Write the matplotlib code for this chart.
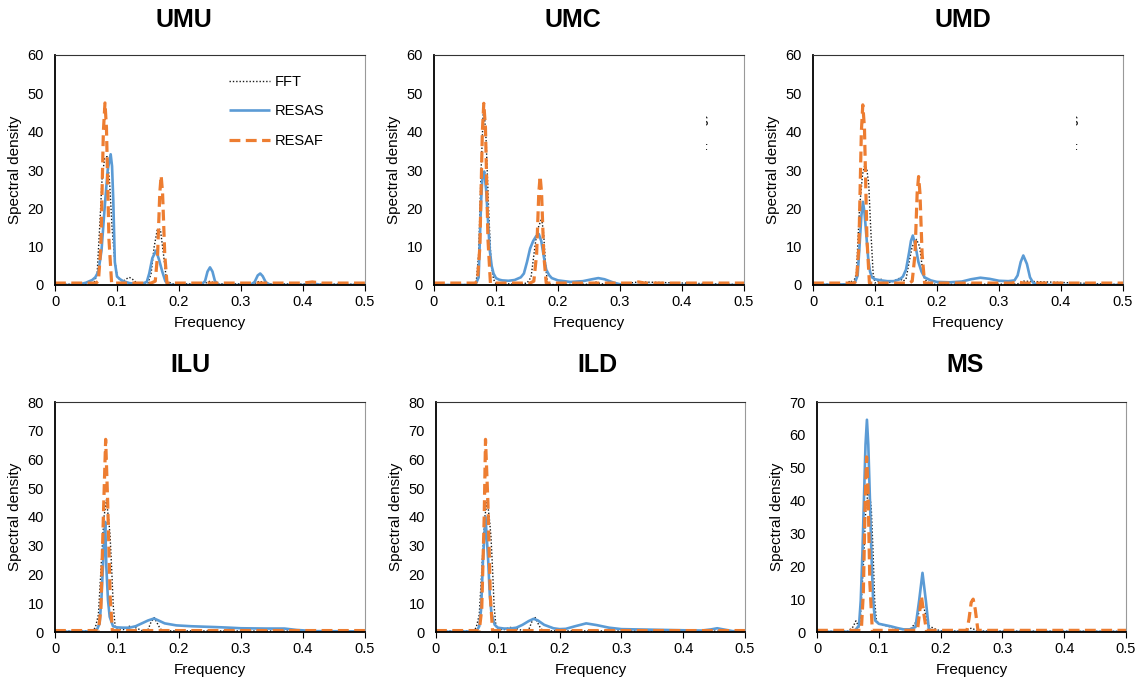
import matplotlib
matplotlib.use("Agg")
import matplotlib.pyplot as plt
from matplotlib.transforms import Bbox, TransformedBbox

plt.rcParams['font.family'] = ['Liberation Sans', 'DejaVu Sans']

# ---------------- data: (frequency, spectral density) knots ----------------
# UMU
umu_fft_f = [0, 0.05, 0.063, 0.068, 0.072, 0.076, 0.08, 0.084, 0.088, 0.092, 0.096, 0.1, 0.105, 0.11, 0.115, 0.12,
             0.125, 0.13, 0.14, 0.15, 0.155, 0.16, 0.165, 0.17, 0.175, 0.18, 0.19, 0.24, 0.25, 0.26, 0.32, 0.33, 0.34, 0.5]
umu_fft_d = [0.2, 0.2, 0.5, 3, 15, 28, 33, 33.5, 27, 15, 7, 2.5, 1.2, 1, 1.6, 2,
             1.5, 0.8, 0.3, 0.5, 3, 10, 14.5, 14.5, 8, 1, 0.3, 0.3, 1, 0.3, 0.3, 1, 0.3, 0.2]
umu_resas_f = [0, 0.03, 0.04, 0.05, 0.06, 0.065, 0.07, 0.075, 0.08, 0.085, 0.0898, 0.092, 0.094, 0.0965, 0.1,
               0.105, 0.11, 0.12, 0.13, 0.14, 0.148, 0.152, 0.157, 0.163, 0.168, 0.173, 0.178, 0.182, 0.19,
               0.235, 0.242, 0.246, 0.25, 0.254, 0.258, 0.265, 0.315, 0.322, 0.327, 0.331, 0.335, 0.34, 0.348,
               0.4, 0.41, 0.415, 0.42, 0.43, 0.5]
umu_resas_d = [0, 0, 0.2, 0.6, 1.3, 2, 3.5, 9, 20, 30, 34.1, 31, 22, 6, 2.2,
               1.5, 1, 0.5, 0.3, 0.3, 0.8, 3, 7, 9, 6.5, 3.5, 1, 0.2, 0,
               0, 1, 3.5, 4.6, 3.5, 1, 0, 0, 0.8, 2.5, 3, 2.3, 0.7, 0,
               0, 0.3, 0.5, 0.3, 0, 0]
umu_resaf_f = [0, 0.066, 0.07, 0.074, 0.078, 0.0806, 0.083, 0.087, 0.0913, 0.155, 0.1617, 0.1655, 0.169, 0.1712,
               0.1735, 0.177, 0.1806, 0.4, 0.415, 0.43, 0.5]
umu_resaf_d = [0.5, 0.5, 1, 10, 40, 47.5, 41, 12, 0.5, 0.5, 1, 8, 24, 28.5, 24, 8, 0.5, 0.5, 0.8, 0.5, 0.5]

# UMC
umc_fft_f = [0, 0.06, 0.068, 0.072, 0.076, 0.08, 0.084, 0.088, 0.092, 0.096, 0.1, 0.12, 0.14, 0.15, 0.1565, 0.162,
             0.166, 0.1737, 0.177, 0.18, 0.183, 0.19, 0.25, 0.26, 0.27, 0.3, 0.33, 0.5]
umc_fft_d = [0.1, 0.1, 0.5, 8, 30, 47.5, 38, 20, 6, 1.5, 0.3, 0.3, 0.3, 0.5, 2, 9, 14, 17.4, 13, 5, 0.5, 0.1,
             0.2, 0.8, 0.3, 0.2, 0.8, 0.1]
umc_resas_f = [0, 0.06, 0.068, 0.072, 0.074, 0.076, 0.078, 0.081, 0.084, 0.087, 0.09, 0.093, 0.096, 0.1, 0.105,
               0.11, 0.12, 0.13, 0.14, 0.145, 0.15, 0.155, 0.16, 0.165, 0.169, 0.173, 0.177, 0.181, 0.186, 0.19,
               0.2, 0.22, 0.24, 0.255, 0.265, 0.275, 0.29, 0.3, 0.32, 0.5]
umc_resas_d = [0, 0, 0.5, 2, 12, 22, 28, 29.6, 25, 17, 9, 5, 3, 1.8, 1.4,
               1.2, 1.1, 1.3, 2, 3, 6, 9.5, 11.5, 12.8, 13.3, 11.5, 7.5, 4, 2.5, 1.8,
               1.2, 0.8, 1, 1.5, 1.8, 1.5, 0.6, 0.2, 0, 0]
umc_resaf_f = [0, 0.066, 0.07, 0.074, 0.078, 0.0803, 0.083, 0.087, 0.091, 0.155, 0.161, 0.1655, 0.169, 0.1712,
               0.1735, 0.177, 0.181, 0.32, 0.33, 0.34, 0.5]
umc_resaf_d = [0.5, 0.5, 1, 10, 40, 47.4, 41, 12, 0.5, 0.5, 1, 8, 24, 28.4, 24, 8, 0.5, 0.5, 0.8, 0.5, 0.5]

# UMD
umd_fft_f = [0, 0.055, 0.06, 0.065, 0.07, 0.075, 0.08, 0.0835, 0.087, 0.09, 0.093, 0.097, 0.1, 0.11, 0.12, 0.13,
             0.14, 0.145, 0.15, 0.155, 0.16, 0.167, 0.172, 0.176, 0.18, 0.19, 0.3, 0.33, 0.34, 0.5]
umd_fft_d = [0.2, 0.2, 1.2, 0.5, 3, 20, 29, 31.2, 30, 26, 15, 3, 0.5, 1.5, 0.5, 1,
             1.8, 1, 1.5, 6, 10, 11.9, 10, 5, 1.5, 0.2, 0.2, 0.3, 1, 0.1]
umd_resas_f = [0, 0.06, 0.068, 0.072, 0.075, 0.078, 0.0806, 0.083, 0.086, 0.089, 0.092, 0.095, 0.1, 0.11, 0.12,
               0.13, 0.14, 0.145, 0.15, 0.155, 0.158, 0.161, 0.165, 0.17, 0.175, 0.18, 0.19, 0.2, 0.22, 0.24,
               0.255, 0.27, 0.285, 0.3, 0.315, 0.325, 0.33, 0.335, 0.3392, 0.345, 0.35, 0.355, 0.36, 0.37, 0.4, 0.5]
umd_resas_d = [0, 0.2, 0.8, 2.5, 10, 18, 21.7, 19, 13, 7, 3.5, 2, 1.5, 1.2, 1,
               1, 1.5, 2.2, 4, 8.5, 11.5, 12.9, 10.5, 6, 3.5, 2, 1.2, 0.8, 0.7, 0.9,
               1.5, 1.9, 1.6, 1.1, 1.0, 1.2, 2.5, 6, 7.7, 5.5, 2, 0.6, 0.2, 0.1, 0, 0]
umd_resaf_f = [0, 0.066, 0.07, 0.074, 0.078, 0.0803, 0.083, 0.087, 0.091, 0.155, 0.16, 0.1645, 0.168, 0.1703,
               0.1725, 0.176, 0.18, 0.32, 0.33, 0.34, 0.5]
umd_resaf_d = [0.5, 0.5, 1, 10, 40, 47.0, 41, 12, 0.5, 0.5, 1, 8, 24, 28.3, 24, 8, 0.5, 0.5, 0.8, 0.5, 0.5]

# ILU
ilu_fft_f = [0, 0.06, 0.065, 0.07, 0.075, 0.079, 0.083, 0.087, 0.0887, 0.0914, 0.094, 0.097, 0.1, 0.11, 0.12,
             0.13, 0.14, 0.15, 0.155, 0.16, 0.165, 0.17, 0.18, 0.5]
ilu_fft_d = [0.3, 0.3, 1.5, 6, 25, 40, 46, 38, 34, 22, 9, 2, 1, 0.8, 2,
             1.5, 0.5, 0.8, 3.5, 5, 3, 1, 0.4, 0.3]
ilu_resas_f = [0, 0.06, 0.068, 0.072, 0.075, 0.0785, 0.081, 0.0828, 0.0855, 0.0882, 0.0936, 0.1, 0.11, 0.12, 0.13,
               0.14, 0.15, 0.1597, 0.167, 0.177, 0.1957, 0.22, 0.26, 0.282, 0.3, 0.34, 0.37, 0.39, 0.42, 0.5]
ilu_resas_d = [0, 0.2, 1, 3, 12, 28.4, 38.3, 22.6, 11, 5.3, 2, 1.6, 1.5, 1.5, 2,
               3, 4, 4.7, 4, 3, 2.3, 2, 1.7, 1.5, 1.3, 1.2, 1.2, 0.7, 0.3, 0.2]
ilu_resaf_f = [0, 0.066, 0.07, 0.074, 0.078, 0.0817, 0.085, 0.089, 0.0925, 0.5]
ilu_resaf_d = [0.5, 0.5, 0.5, 8, 40, 67, 45, 12, 0.5, 0.5]

# ILD
ild_fft_f = [0, 0.06, 0.065, 0.07, 0.075, 0.079, 0.083, 0.087, 0.089, 0.0915, 0.094, 0.097, 0.1, 0.11, 0.12,
             0.13, 0.14, 0.15, 0.155, 0.16, 0.165, 0.17, 0.18, 0.5]
ild_fft_d = [0.3, 0.3, 1.5, 6, 25, 40, 46, 38, 33, 22, 9, 2, 1, 0.8, 1.6,
             1.2, 0.5, 0.8, 3.5, 5.2, 3, 1, 0.4, 0.3]
ild_resas_f = [0, 0.06, 0.067, 0.07, 0.073, 0.076, 0.0801, 0.0844, 0.087, 0.0898, 0.095, 0.1, 0.11, 0.12, 0.13,
               0.14, 0.15, 0.158, 0.165, 0.175, 0.19, 0.2, 0.21, 0.225, 0.243, 0.26, 0.28, 0.3, 0.35, 0.4,
               0.43, 0.445, 0.455, 0.465, 0.48, 0.5]
ild_resas_d = [0, 0.2, 0.8, 2, 8, 25, 40, 25, 13, 6.4, 2.5, 1.5, 1.2, 1.2, 1.5,
               2.5, 3.8, 4.6, 4, 2.5, 1.3, 1, 1.1, 2, 3, 2.4, 1.5, 1, 0.8, 0.6,
               0.5, 0.9, 1.3, 0.9, 0.3, 0.2]
ild_resaf_f = [0, 0.066, 0.07, 0.074, 0.078, 0.0801, 0.084, 0.088, 0.0915, 0.5]
ild_resaf_d = [0.5, 0.5, 0.5, 8, 40, 67, 45, 12, 0.5, 0.5]

# MS
ms_fft_f = [0, 0.05, 0.058, 0.063, 0.068, 0.07, 0.075, 0.079, 0.083, 0.086, 0.088, 0.0906, 0.0933, 0.096, 0.1,
            0.11, 0.13, 0.15, 0.16, 0.17, 0.175, 0.18, 0.185, 0.19, 0.2, 0.24, 0.25, 0.26, 0.5]
ms_fft_d = [0.2, 0.2, 1.5, 3.4, 1.5, 4, 20, 38, 42.6, 41, 37, 25, 9.6, 3.6, 2.5,
            2, 1, 0.5, 3, 9, 6, 2, 1.5, 1, 0.3, 0.3, 1.2, 0.3, 0.2]
ms_resas_f = [0, 0.06, 0.068, 0.0708, 0.0735, 0.0759, 0.0785, 0.0808, 0.083, 0.0857, 0.088, 0.0908, 0.094, 0.1,
              0.11, 0.12, 0.13, 0.14, 0.15, 0.1594, 0.1653, 0.1707, 0.1761, 0.1809, 0.19, 0.5]
ms_resas_d = [0, 0.1, 2, 9.6, 24, 40, 57, 64.6, 57, 40, 24, 9.6, 3.5, 2.5,
              2.1, 1.7, 1.2, 0.8, 0.8, 1.5, 9.6, 18, 9.6, 1, 0, 0]
ms_resaf_f = [0, 0.068, 0.0717, 0.075, 0.078, 0.0803, 0.0825, 0.0855, 0.0895, 0.16, 0.1626, 0.166, 0.169, 0.1725,
              0.177, 0.2426, 0.246, 0.2495, 0.2527, 0.256, 0.2604, 0.5]
ms_resaf_d = [0.5, 0.5, 0.5, 12, 40, 53.3, 44, 15, 0.5, 0.5, 0.5, 6, 10.9, 6, 0.5, 0.5, 4, 9, 10, 7, 0.5, 0.5]

freq_ticks = [0, 0.1, 0.2, 0.3, 0.4, 0.5]
freq_tick_labels = ["0", "0.1", "0.2", "0.3", "0.4", "0.5"]
panel_names = ["UMU", "UMC", "UMD", "ILU", "ILD", "MS"]
panel_ymax = [60, 60, 60, 80, 80, 70]
series_names = ["FFT", "RESAS", "RESAF"]

panel_series = [
    [(umu_fft_f, umu_fft_d), (umu_resas_f, umu_resas_d), (umu_resaf_f, umu_resaf_d)],
    [(umc_fft_f, umc_fft_d), (umc_resas_f, umc_resas_d), (umc_resaf_f, umc_resaf_d)],
    [(umd_fft_f, umd_fft_d), (umd_resas_f, umd_resas_d), (umd_resaf_f, umd_resaf_d)],
    [(ilu_fft_f, ilu_fft_d), (ilu_resas_f, ilu_resas_d), (ilu_resaf_f, ilu_resaf_d)],
    [(ild_fft_f, ild_fft_d), (ild_resas_f, ild_resas_d), (ild_resaf_f, ild_resaf_d)],
    [(ms_fft_f, ms_fft_d), (ms_resas_f, ms_resas_d), (ms_resaf_f, ms_resaf_d)],
]

# ---------------- layout ----------------
W, H = 1139, 681
fig = plt.figure(figsize=(W / 100, H / 100), dpi=100)

# axes boxes in pixels: left, top, right, bottom
boxes = [(55, 55, 365, 285), (434, 55, 744, 285), (813, 55, 1123, 285),
         (55, 402, 365, 632), (436, 402, 745, 632), (817, 402, 1126, 632)]
title_pos = [(184, 20), (573, 20), (963, 20), (190, 365), (597, 365), (965, 365)]

styles = [
    dict(color="#1a1a1a", lw=1.0, linestyle=(0, (1.0, 1.4))),
    dict(color="#5B9BD5", lw=1.9, linestyle="-"),
    dict(color="#ED7D31", lw=2.3, linestyle=(0, (3.4, 1.7))),
]

for i, name in enumerate(panel_names):
    l, t, r, b = boxes[i]
    ax = fig.add_axes([l / W, 1 - b / H, (r - l) / W, (b - t) / H])
    for (fx, dy), st, lab in zip(panel_series[i], styles, series_names):
        ax.plot(fx, dy, label=lab, solid_capstyle="butt", dash_capstyle="butt", **st)
    ax.set_xlim(0, 0.5)
    ax.set_ylim(0, panel_ymax[i])
    ax.set_xticks(freq_ticks)
    ax.set_xticklabels(freq_tick_labels)
    ax.set_yticks(range(0, panel_ymax[i] + 1, 10))
    ax.tick_params(axis="x", direction="out", length=4, width=0.8, labelsize=10.5, pad=3, colors="#000000")
    ax.tick_params(axis="y", length=0, labelsize=10.5, pad=8)
    for side in ("left", "bottom"):
        ax.spines[side].set_linewidth(1.3)
        ax.spines[side].set_color("black")
    ax.spines["top"].set_linewidth(0.8)
    ax.spines["top"].set_color("#333333")
    ax.spines["right"].set_linewidth(0.8)
    ax.spines["right"].set_color("#999999")
    ax.set_xlabel("Frequency", fontsize=11, labelpad=5)
    ax.set_ylabel("Spectral density", fontsize=11, labelpad=4)
    fig.text(title_pos[i][0] / W, 1 - title_pos[i][1] / H, name, fontsize=18, fontweight="bold",
             ha="center", va="center")

    if name == "UMU":
        ax.legend(loc="upper left", bbox_to_anchor=((229 - l) / (r - l), (b - 75) / (b - t)),
                  frameon=False, fontsize=10.5, handlelength=2.8, handletextpad=0.35,
                  labelspacing=1.05, borderpad=0, borderaxespad=0)
    elif name in ("UMC", "UMD"):
        # right-hand edge of a legend that is otherwise hidden
        xe = 709 if name == "UMC" else 1079
        for lab, yy in (("RESAS", 122), ("RESAF", 150)):
            txt = fig.text(xe / W, 1 - yy / H, lab, fontsize=10.5, ha="right", va="center", color="#222222")
            clip = TransformedBbox(Bbox([[(xe - 3) / W, 1 - (yy + 8) / H], [(xe + 1) / W, 1 - (yy - 8) / H]]),
                                   fig.transFigure)
            txt.set_clip_box(clip)
            txt.set_clip_on(True)

fig.savefig("out.png", dpi=100)
